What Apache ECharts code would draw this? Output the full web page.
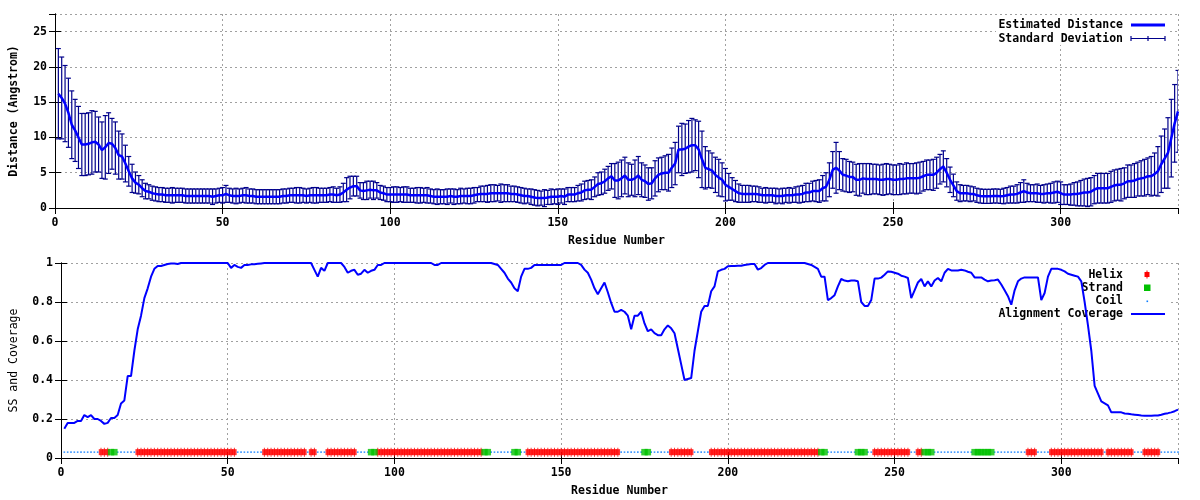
<!DOCTYPE html>
<html>
<head>
<meta charset="utf-8">
<script src="https://cdn.jsdelivr.net/npm/echarts@6/dist/echarts.min.js"></script>
<style>
html,body{margin:0;padding:0;background:#fff;}
#chart{width:1200px;height:500px;}
</style>
</head>
<body>
<div id="chart"></div>
<script>
// ---------------- DATA ----------------
// Estimated distance per residue (1..335)
const distance = [
16.2,15.6,14.8,13.5,11.8,11.0,10.0,9.0,9.0,9.1,
9.3,9.4,9.0,8.2,8.6,9.2,9.1,8.5,7.5,7.3,
6.3,5.2,4.2,3.6,3.3,2.8,2.4,2.3,2.1,2.0,
1.9,1.9,1.8,1.8,1.8,1.8,1.8,1.8,1.7,1.7,
1.7,1.7,1.7,1.7,1.7,1.7,1.6,1.7,1.8,1.8,
2.0,1.8,1.7,1.7,1.7,1.8,1.8,1.7,1.7,1.6,
1.6,1.6,1.6,1.6,1.6,1.6,1.6,1.7,1.7,1.8,
1.8,1.8,1.8,1.8,1.7,1.8,1.8,1.8,1.8,1.8,
1.8,1.9,1.9,1.8,1.9,2.2,2.6,2.9,3.1,3.1,
2.5,2.4,2.5,2.6,2.5,2.5,2.2,2.1,1.9,1.9,
1.9,1.9,1.9,1.9,1.9,1.8,1.8,1.8,1.8,1.8,
1.8,1.7,1.6,1.6,1.6,1.6,1.6,1.7,1.6,1.6,
1.7,1.7,1.7,1.7,1.8,1.9,2.0,2.0,2.0,2.1,
2.1,2.1,2.1,2.1,2.1,2.0,2.0,1.9,1.8,1.7,
1.7,1.6,1.5,1.4,1.4,1.4,1.5,1.6,1.6,1.6,
1.7,1.6,1.9,1.9,1.9,2.1,2.2,2.5,2.6,2.6,
3.0,3.4,3.5,3.8,4.2,4.5,3.9,3.9,4.2,4.6,
4.0,4.0,4.2,4.6,4.0,3.8,3.4,3.5,4.2,4.7,
4.9,5.0,5.0,5.7,6.3,8.3,8.3,8.4,8.7,8.9,
8.9,8.3,6.9,5.7,5.5,5.3,4.7,4.3,4.0,3.3,
3.0,2.7,2.4,2.1,2.0,2.0,2.0,2.0,2.0,1.9,
1.8,1.8,1.8,1.8,1.7,1.7,1.7,1.8,1.8,1.8,
1.9,1.9,2.0,2.2,2.2,2.4,2.4,2.4,2.8,3.0,
4.0,5.4,5.7,5.3,4.7,4.6,4.4,4.4,4.0,4.0,
4.2,4.1,4.1,4.1,4.1,4.0,4.0,4.1,4.1,4.0,
4.0,4.1,4.1,4.2,4.2,4.2,4.2,4.3,4.5,4.7,
4.7,4.7,5.0,5.5,5.9,5.0,4.0,3.2,2.4,2.1,
2.1,2.1,2.0,2.0,1.8,1.7,1.65,1.65,1.65,1.7,
1.7,1.65,1.7,1.8,1.9,1.9,2.0,2.2,2.4,2.2,
2.1,2.1,2.1,2.0,2.0,2.1,2.1,2.2,2.3,2.1,
1.9,1.9,1.9,2.0,2.0,2.1,2.2,2.2,2.3,2.6,
2.8,2.8,2.8,2.8,3.0,3.2,3.3,3.3,3.5,3.8,
3.8,3.9,4.1,4.2,4.3,4.5,4.5,4.8,5.2,6.2,
7.0,7.8,9.9,12.0,13.7
];
// Standard deviation per residue
const stdDev = [
6.4,5.8,5.4,4.9,4.8,4.4,4.4,4.4,4.4,4.4,
4.5,4.3,3.9,4.0,4.5,4.3,3.6,3.7,3.4,3.2,
2.6,2.1,2.0,1.5,1.3,1.2,1.1,1.0,1.0,1.0,
1.0,1.0,1.0,1.0,1.1,1.0,1.0,1.0,1.0,1.0,
1.0,1.0,1.0,1.0,1.0,1.0,1.1,1.0,1.0,1.1,
1.2,1.0,1.0,1.1,1.0,1.0,1.1,1.0,1.0,1.0,
1.0,1.0,1.0,1.0,1.0,1.0,1.0,1.0,1.0,1.0,
1.0,1.1,1.1,1.0,1.0,1.0,1.1,1.1,1.0,1.0,
1.0,1.0,1.1,1.0,1.1,1.3,1.7,1.6,1.4,1.4,
1.1,1.2,1.3,1.2,1.3,1.1,1.0,1.0,1.0,1.0,
1.1,1.1,1.0,1.1,1.1,1.0,1.0,1.1,1.1,1.0,
1.1,1.0,1.0,1.1,1.0,1.0,1.1,1.0,1.1,1.0,
1.1,1.0,1.1,1.1,1.1,1.0,1.1,1.1,1.2,1.2,
1.2,1.1,1.3,1.2,1.2,1.1,1.1,1.1,1.1,1.1,
1.0,1.1,1.1,1.1,1.0,1.2,1.0,1.1,1.0,1.1,
1.0,1.1,1.0,1.0,1.0,1.1,1.2,1.3,1.3,1.4,
1.4,1.6,1.6,1.7,1.7,1.8,2.4,2.6,2.6,2.6,
2.4,2.2,2.6,2.7,2.4,2.3,2.3,2.2,2.5,2.4,
2.3,2.4,2.6,2.8,3.0,3.3,3.7,3.5,3.7,3.8,
3.6,4.0,4.0,3.0,2.6,2.5,2.5,2.6,2.4,2.3,
1.9,1.6,1.5,1.3,1.2,1.2,1.2,1.1,1.1,1.1,
1.0,1.1,1.0,1.0,1.1,1.0,1.1,1.0,1.1,1.0,
1.1,1.2,1.2,1.3,1.3,1.4,1.5,1.6,1.8,2.0,
2.4,2.6,3.6,2.7,2.3,2.3,2.2,2.1,2.2,2.3,
2.1,2.2,2.2,2.1,2.1,2.1,2.2,2.2,2.1,2.1,
2.1,2.2,2.1,2.2,2.1,2.1,2.2,2.2,2.1,2.1,
2.1,2.2,2.2,2.1,2.2,2.0,1.8,1.6,1.3,1.2,
1.1,1.1,1.1,1.0,1.0,1.0,1.0,1.0,1.0,1.0,
1.0,1.0,1.1,1.1,1.2,1.2,1.3,1.4,1.6,1.3,
1.2,1.2,1.3,1.2,1.3,1.3,1.4,1.5,1.5,1.6,
1.4,1.4,1.5,1.6,1.7,1.8,1.9,2.0,2.0,2.0,
2.1,2.1,2.1,2.1,2.2,2.2,2.2,2.3,2.2,2.3,
2.3,2.4,2.4,2.5,2.6,2.6,2.8,3.0,3.5,4.0,
4.2,5.0,5.5,5.5,5.8
];
// Alignment coverage per residue
const coverage = [
0.15,0.18,0.18,0.18,0.19,0.19,0.22,0.21,0.22,0.20,
0.20,0.19,0.175,0.18,0.205,0.205,0.22,0.28,0.295,0.42,
0.42,0.55,0.66,0.73,0.82,0.87,0.93,0.97,0.985,0.985,
0.99,0.995,0.997,0.997,0.995,1,1,1,1,1,
1,1,1,1,1,1,1,1,1,1,
0.975,0.99,0.98,0.975,0.99,0.99,0.993,0.994,0.996,0.998,
1,1,1,1,1,1,1,1,1,1,
1,1,1,1,1,0.965,0.93,0.975,0.96,1,
1,1,1,1,0.98,0.95,0.96,0.965,0.94,0.945,
0.965,0.95,0.96,0.965,0.99,0.99,1,1,1,1,
1,1,1,1,1,1,1,1,1,1,
1,0.99,0.99,1,1,1,1,1,1,1,
1,1,1,1,1,1,1,1,1,0.995,
0.99,0.97,0.95,0.92,0.9,0.87,0.855,0.93,0.97,0.97,
0.975,0.99,0.99,0.99,0.99,0.99,0.99,0.99,0.99,0.99,
1,1,1,1,1,0.99,0.966,0.95,0.915,0.87,
0.84,0.87,0.9,0.85,0.795,0.75,0.75,0.76,0.75,0.73,
0.66,0.73,0.73,0.75,0.69,0.65,0.66,0.64,0.63,0.63,
0.66,0.68,0.665,0.64,0.56,0.48,0.4,0.405,0.41,0.55,
0.65,0.75,0.78,0.78,0.855,0.88,0.957,0.965,0.97,0.983,
0.985,0.985,0.986,0.986,0.99,0.992,0.995,0.995,0.966,0.974,
0.99,1,1,1,1,1,1,1,1,1,
1,1,1,0.995,0.99,0.98,0.97,0.93,0.93,0.81,
0.82,0.835,0.88,0.918,0.91,0.906,0.91,0.91,0.906,0.8,
0.78,0.78,0.81,0.92,0.92,0.925,0.94,0.957,0.955,0.95,
0.945,0.935,0.93,0.923,0.82,0.86,0.9,0.918,0.88,0.906,
0.88,0.91,0.923,0.906,0.95,0.97,0.962,0.962,0.962,0.965,
0.962,0.955,0.95,0.926,0.926,0.926,0.915,0.906,0.91,0.912,
0.915,0.89,0.86,0.83,0.786,0.86,0.906,0.92,0.926,0.926,
0.926,0.926,0.926,0.81,0.846,0.93,0.97,0.97,0.97,0.965,
0.957,0.945,0.94,0.935,0.93,0.906,0.8,0.68,0.55,0.37,
0.33,0.29,0.28,0.27,0.234,0.234,0.234,0.234,0.228,0.227,
0.224,0.222,0.22,0.218,0.217,0.217,0.217,0.218,0.218,0.222,
0.227,0.23,0.234,0.24,0.248
];
// Secondary structure segments [type, firstResidue, lastResidue]; all others are coil
const ssSegments = [
["H",12,14],["E",15,16],["H",23,52],["H",61,73],["H",75,76],["H",80,88],
["E",93,94],["H",95,126],["E",127,128],["E",136,137],["H",140,167],["E",175,176],
["H",183,189],["H",195,227],["E",228,229],["E",239,241],["H",244,254],["H",257,258],
["E",259,261],["E",274,279],["H",290,292],["H",297,312],["H",314,321],["H",325,329]
];
const ssLevel = 0.03;
const residueCount = 335;
const xTicks = [0,50,100,150,200,250,300];

// ---------------- BUILD ----------------
const residues = [];
for (let i = 1; i <= residueCount; i++) residues.push(i);
const ssOf = {};
ssSegments.forEach(([t,a,b]) => { for (let r = a; r <= b; r++) ssOf[r] = t; });
const helixPts = [], strandPts = [], coilPts = [];
residues.forEach(r => {
  const t = ssOf[r] || 'C';
  if (t === 'H') helixPts.push([r, ssLevel]);
  else if (t === 'E') strandPts.push([r, ssLevel]);
  else coilPts.push([r, ssLevel]);
});
const distData = residues.map((r,i) => [r, distance[i]]);
const errData = residues.map((r,i) => [r, distance[i], stdDev[i]]);
const covData = residues.map((r,i) => [r, coverage[i]]);

const FONT = '"DejaVu Sans Mono", "Liberation Mono", monospace';
const FS = 11.5;
const gridLine = { show: true, lineStyle: { color: '#a0a0a0', type: [2,3], width: 1 } };
const axLine = { show: true, lineStyle: { color: '#000', width: 1 } };
const tick = { show: true, inside: true, length: 6, lineStyle: { color: '#000' } };
const lbl = { fontFamily: FONT, fontWeight: 'bold', fontSize: FS, color: '#000' };

function xAx(grid, pos, labels, name, gap) {
  return {
    type: 'value', gridIndex: grid, position: pos, min: 0, max: residueCount, interval: 50,
    axisLine: axLine, axisTick: tick,
    axisLabel: Object.assign({ show: labels, margin: 9, showMaxLabel: false,
      formatter: v => xTicks.indexOf(v) >= 0 ? String(v) : '' }, lbl),
    splitLine: labels ? gridLine : { show: false },
    name: name || '', nameLocation: 'middle', nameGap: gap || 0,
    nameTextStyle: { fontFamily: FONT, fontWeight: 'bold', fontSize: FS, color: '#000' }
  };
}
function yAx(grid, pos, labels, min, max, interval, name, gap, bold) {
  return {
    type: 'value', gridIndex: grid, position: pos, min: min, max: max, interval: interval,
    axisLine: axLine, axisTick: tick,
    axisLabel: Object.assign({ show: labels, margin: 8, showMaxLabel: max === 1 }, lbl),
    splitLine: labels ? gridLine : { show: false },
    name: name || '', nameLocation: 'middle', nameGap: gap || 0, nameRotate: 90,
    nameTextStyle: { fontFamily: FONT, fontWeight: bold ? 'bold' : 'normal', fontSize: FS, color: '#000' }
  };
}

function renderErr(params, api) {
  const x = api.value(0), y = api.value(1), s = api.value(2);
  const hi = api.coord([x, y + s]);
  const lo = api.coord([x, y - s]);
  const w = 2.5;
  const style = { stroke: '#00008b', lineWidth: 1.2, fill: null };
  return { type: 'group', children: [
    { type: 'line', shape: { x1: hi[0], y1: hi[1], x2: lo[0], y2: lo[1] }, style: style },
    { type: 'line', shape: { x1: hi[0]-w, y1: hi[1], x2: hi[0]+w, y2: hi[1] }, style: style },
    { type: 'line', shape: { x1: lo[0]-w, y1: lo[1], x2: lo[0]+w, y2: lo[1] }, style: style }
  ]};
}

const legText = (txt, y) => ({ type: 'text', z: 5, x: 1123, y: y,
  style: { text: txt, fill: '#000', font: 'bold ' + FS + 'px ' + FONT, textAlign: 'right', textVerticalAlign: 'middle' } });

const option = {
  animation: false,
  backgroundColor: '#fff',
  grid: [
    { left: 52, top: 14, width: 1126, height: 194 },
    { left: 58, top: 263, width: 1120, height: 195 }
  ],
  xAxis: [
    xAx(0, 'bottom', true, 'Residue Number', 27),
    xAx(0, 'top', false),
    xAx(1, 'bottom', true, 'Residue Number', 27),
    xAx(1, 'top', false)
  ],
  yAxis: [
    yAx(0, 'left', true, 0, 27.5, 5, 'Distance (Angstrom)', 35, true),
    yAx(0, 'right', false, 0, 27.5, 5),
    yAx(1, 'left', true, 0, 1, 0.2, 'SS and Coverage', 41, false),
    yAx(1, 'right', false, 0, 1, 0.2)
  ],
  series: [
    { name: 'Standard Deviation', type: 'custom', xAxisIndex: 0, yAxisIndex: 0, z: 3,
      renderItem: renderErr, encode: { x: 0, y: 1 }, data: errData, clip: true },
    { name: 'Estimated Distance', type: 'line', xAxisIndex: 0, yAxisIndex: 0, z: 4,
      data: distData, showSymbol: false, lineStyle: { color: '#0000ff', width: 2.5 } },
    { name: 'Helix', type: 'scatter', xAxisIndex: 2, yAxisIndex: 2, z: 3,
      data: helixPts, symbol: 'rect', symbolSize: [4.5, 6], itemStyle: { color: '#ff0000' } },
    { name: 'Helix', type: 'scatter', xAxisIndex: 2, yAxisIndex: 2, z: 3,
      data: helixPts, symbol: 'rect', symbolSize: [1, 9], itemStyle: { color: '#ff0000' } },
    { name: 'Strand', type: 'scatter', xAxisIndex: 2, yAxisIndex: 2, z: 4,
      data: strandPts, symbol: 'rect', symbolSize: [6.5, 6.5], itemStyle: { color: '#00c000' } },
    { name: 'Coil', type: 'scatter', xAxisIndex: 2, yAxisIndex: 2, z: 3,
      data: coilPts, symbol: 'rect', symbolSize: [1.6, 1.6], itemStyle: { color: '#0a7cff' } },
    { name: 'Alignment Coverage', type: 'line', xAxisIndex: 2, yAxisIndex: 2, z: 5,
      data: covData, showSymbol: false, lineStyle: { color: '#0000ff', width: 2 } }
  ],
  graphic: [
    // opaque key boxes
    { type: 'rect', z: 1, shape: { x: 996, y: 15, width: 174, height: 30 }, style: { fill: '#fff' } },
    { type: 'rect', z: 1, shape: { x: 998, y: 264, width: 172, height: 56 }, style: { fill: '#fff' } },
    legText('Estimated Distance', 25.5),
    legText('Standard Deviation', 39),
    { type: 'line', z: 5, shape: { x1: 1131, y1: 25, x2: 1165, y2: 25 }, style: { stroke: '#0000ff', lineWidth: 3 } },
    { type: 'line', z: 5, shape: { x1: 1131, y1: 38.5, x2: 1165, y2: 38.5 }, style: { stroke: '#00008b', lineWidth: 1.2 } },
    { type: 'line', z: 5, shape: { x1: 1131, y1: 36, x2: 1131, y2: 41 }, style: { stroke: '#00008b', lineWidth: 1.2 } },
    { type: 'line', z: 5, shape: { x1: 1148, y1: 36, x2: 1148, y2: 41 }, style: { stroke: '#00008b', lineWidth: 1.2 } },
    { type: 'line', z: 5, shape: { x1: 1165, y1: 36, x2: 1165, y2: 41 }, style: { stroke: '#00008b', lineWidth: 1.2 } },
    legText('Helix', 275),
    legText('Strand', 288),
    legText('Coil', 301),
    legText('Alignment Coverage', 314),
    { type: 'rect', z: 5, shape: { x: 1144.5, y: 272, width: 5, height: 5 }, style: { fill: '#ff0000' } },
    { type: 'rect', z: 5, shape: { x: 1146.5, y: 270.5, width: 1, height: 8 }, style: { fill: '#ff0000' } },
    { type: 'rect', z: 5, shape: { x: 1144, y: 284.5, width: 6.5, height: 6.5 }, style: { fill: '#00c000' } },
    { type: 'rect', z: 5, shape: { x: 1146.5, y: 300.5, width: 1.6, height: 1.6 }, style: { fill: '#0a7cff' } },
    { type: 'line', z: 5, shape: { x1: 1131, y1: 314, x2: 1165, y2: 314 }, style: { stroke: '#0000ff', lineWidth: 2 } }
  ]
};

const chart = echarts.init(document.getElementById('chart'), null, { renderer: 'canvas' });
chart.setOption(option);
</script>
</body>
</html>
